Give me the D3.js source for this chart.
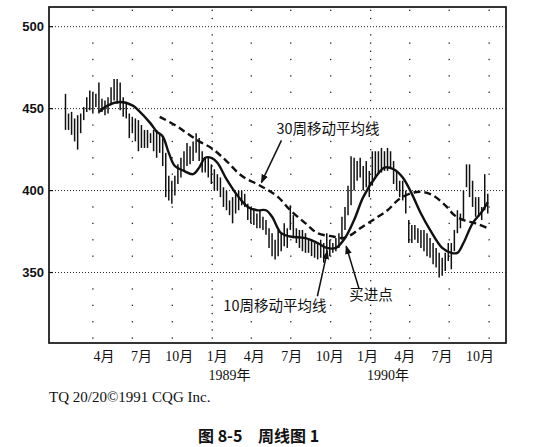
<!DOCTYPE html>
<html>
<head>
<meta charset="utf-8">
<script src="https://cdn.jsdelivr.net/npm/d3@7"></script>
<style>
  html, body { margin: 0; padding: 0; background: #fff; }
  svg { display: block; }
</style>
</head>
<body>
<div id="chart"></div>
<script>
(function () {
'use strict';
// Weekly bar chart with 10-week and 30-week moving averages (1988-1990)

// ---- data ----
const weekStart = new Date(1988, 0, 29);   // first weekly bar

const highs = [
  459,447,448,444,446,447,451,457,461,460,459,466,456,455,457,463,468,468,466,457,
  454,447,445,444,443,440,437,437,435,437,437,435,432,423,409,406,409,416,420,424,
  429,427,430,435,432,424,420,420,416,413,410,408,402,400,394,396,398,400,400,398,
  392,390,389,386,388,384,382,377,374,370,376,374,380,377,391,385,377,376,376,374,
  371,370,368,368,370,368,374,370,368,371,374,384,390,403,421,420,418,420,415,418,
  412,424,424,424,426,424,426,424,418,412,406,406,400,382,379,379,377,376,376,374,
  371,368,365,362,359,362,368,368,376,388,386,400,416,416,406,396,396,390,410,398
];
const lows = [
  437,437,434,430,425,435,443,448,449,447,451,447,448,446,447,452,455,453,449,445,
  444,432,435,430,424,426,426,426,429,424,420,423,415,396,394,392,397,404,408,412,
  415,416,418,423,418,411,411,408,404,400,400,396,390,388,385,380,386,388,391,390,
  382,380,379,377,377,376,373,365,360,358,360,363,366,365,376,371,368,365,363,362,
  362,360,359,358,359,356,362,360,362,363,365,370,376,385,391,400,406,408,400,402,
  396,403,408,410,411,412,412,414,404,400,396,394,386,368,368,370,368,365,363,360,
  359,355,353,347,348,351,357,352,363,374,377,382,402,396,390,384,384,382,388,386
];

// moving averages as drawn: [week index, value]
const ma10 = [
  [11,448],[14,452],[18,454],[22,452],[24,449],[28,441],[30,436],[32,433],[34,423],
  [36,415],[39,412],[42,410],[44,414],[46,420],[48,420],[50,417],[53,407],[57,396],
  [60,390],[63,388],[66,388],[68,384],[71,374],[74,372],[79,371],[83,368],[86,365],
  [89,365],[92,371],[95,382],[98,396],[102,408],[105,414],[108,413],[111,408],
  [114,398],[117,386],[120,376],[124,365],[127,362],[129,362],[131,368],[134,380],
  [137,387],[139,393]
];
const ma30 = [
  [31,445],[36,440],[40,435],[44,430],[48,426],[53,418],[58,409],[63,404],[66,401],
  [70,396],[74,388],[79,380],[83,374],[88,372],[91,371],[94,373],[97,377],[102,383],
  [106,388],[110,395],[115,399],[118,399],[121,397],[125,391],[128,385],[131,382],
  [135,380],[139,377]
];

const yTicks = [350, 400, 450, 500];
const yearLabels = ["1989年", "1990年"];

const notes = [
  { text: "30周移动平均线", week: 64.5, value: 405, lineDx: 20, lineDy: -42, textDx: 15, textDy: -48 },
  { text: "10周移动平均线", week: 86.2, value: 363, lineDx: -10, lineDy: 45, textDx: -104, textDy: 60 },
  { text: "买进点",         week: 92.4, value: 366, lineDx: 13, lineDy: 43, textDx: 3, textDy: 54 }
];

// ---- layout ----
const width = 534, height = 447;
const frame = { left: 49, top: 7, right: 506, bottom: 343 };

const svg = d3.select("#chart").append("svg")
  .attr("width", width).attr("height", height)
  .attr("viewBox", `0 0 ${width} ${height}`);

const weekDate = w => new Date(weekStart.getTime() + w * 7 * 864e5);

const x = d3.scaleTime()
  .domain([new Date(1987, 11, 22), new Date(1990, 10, 9)])
  .range([frame.left, frame.right]);
const y = d3.scaleLinear()
  .domain([307, 512])
  .range([frame.bottom, frame.top]);

// month labels drift a little against the grid in the original
const labelX = d3.scaleTime()
  .domain([new Date(1988, 3, 1), new Date(1990, 9, 1)])
  .range([104, 480]);

const qTicks = d3.timeMonth.every(3).range(new Date(1988, 3, 1), new Date(1990, 9, 2));

const SERIF = "'Liberation Serif','Times New Roman','Noto Sans CJK SC',serif";
const CJK = "'Noto Sans CJK SC','Noto Sans',sans-serif";

// ---- grid ----
const grid = svg.append("g");
grid.selectAll("line.h").data(yTicks).join("line")
  .attr("class", "h")
  .attr("x1", frame.left).attr("x2", frame.right)
  .attr("y1", d => y(d)).attr("y2", d => y(d))
  .attr("stroke", "#222").attr("stroke-width", 1)
  .attr("stroke-dasharray", "1 2");

// dotted columns: every 10 units, denser on January
qTicks.forEach(t => {
  const step = t.getMonth() === 0 ? 5 : 10;
  const vals = d3.range(310, 512, step).filter(v => yTicks.indexOf(v) < 0);
  grid.selectAll(null).data(vals).join("rect")
    .attr("x", x(t) - 0.6).attr("y", v => y(v) - 0.6)
    .attr("width", 1.3).attr("height", 1.3)
    .attr("fill", "#222");
});

// ---- frame + y axis ----
svg.append("rect")
  .attr("x", frame.left).attr("y", frame.top)
  .attr("width", frame.right - frame.left).attr("height", frame.bottom - frame.top)
  .attr("fill", "none").attr("stroke", "#111").attr("stroke-width", 1.7);

svg.append("g").selectAll("line").data(yTicks).join("line")
  .attr("x1", frame.left).attr("x2", frame.left + 4)
  .attr("y1", d => y(d)).attr("y2", d => y(d))
  .attr("stroke", "#111").attr("stroke-width", 1.2);

svg.append("g").selectAll("text").data(yTicks).join("text")
  .attr("x", 44).attr("y", d => y(d)).attr("dy", "0.36em")
  .attr("text-anchor", "end")
  .attr("font-family", "'Liberation Sans',Arial,sans-serif")
  .attr("font-weight", "bold").attr("font-size", 13)
  .attr("fill", "#111")
  .text(d => d);

// ---- x labels ----
svg.append("g").selectAll("text").data(qTicks).join("text")
  .attr("x", d => labelX(d)).attr("y", 361)
  .attr("text-anchor", "middle")
  .attr("font-family", SERIF).attr("font-size", 14)
  .attr("fill", "#111")
  .text(d => (d.getMonth() + 1) + "月");

svg.append("g").selectAll("text").data(yearLabels).join("text")
  .attr("x", (d, i) => x(new Date(1989 + i, 1, 10)))
  .attr("y", 380)
  .attr("text-anchor", "middle")
  .attr("font-family", SERIF).attr("font-size", 14)
  .attr("fill", "#111")
  .text(d => d);

// ---- weekly bars ----
svg.append("g").selectAll("line").data(highs).join("line")
  .attr("x1", (d, i) => x(weekDate(i))).attr("x2", (d, i) => x(weekDate(i)))
  .attr("y1", d => y(d)).attr("y2", (d, i) => y(lows[i]))
  .attr("stroke", "#111").attr("stroke-width", 1.5);

// ---- moving averages ----
const maLine = d3.line()
  .x(d => x(weekDate(d[0])))
  .y(d => y(d[1]))
  .curve(d3.curveCatmullRom.alpha(0.5));

svg.append("path").datum(ma30)
  .attr("d", maLine)
  .attr("fill", "none").attr("stroke", "#111")
  .attr("stroke-width", 2.4).attr("stroke-dasharray", "7 4");

svg.append("path").datum(ma10)
  .attr("d", maLine)
  .attr("fill", "none").attr("stroke", "#111")
  .attr("stroke-width", 2.4);

// ---- annotations ----
svg.append("defs").append("marker")
  .attr("id", "tip").attr("viewBox", "0 0 8 8")
  .attr("refX", 7).attr("refY", 4)
  .attr("markerWidth", 6).attr("markerHeight", 6)
  .attr("orient", "auto")
  .append("path").attr("d", "M0,1 L8,4 L0,7 Z").attr("fill", "#111");

const ann = svg.append("g").selectAll("g").data(notes).join("g")
  .attr("transform", d => `translate(${x(weekDate(d.week))},${y(d.value)})`);
ann.append("line")
  .attr("x1", d => d.lineDx).attr("y1", d => d.lineDy)
  .attr("x2", 0).attr("y2", 0)
  .attr("stroke", "#111").attr("stroke-width", 1.5)
  .attr("marker-end", "url(#tip)");
ann.append("text")
  .attr("x", d => d.textDx).attr("y", d => d.textDy)
  .attr("font-family", CJK).attr("font-size", 14.5)
  .attr("fill", "#111")
  .text(d => d.text);

// ---- credit + caption ----
svg.append("text")
  .attr("x", 49).attr("y", 402)
  .attr("font-family", SERIF).attr("font-size", 15)
  .attr("fill", "#111")
  .text("TQ 20/20©1991 CQG Inc.");

svg.append("text")
  .attr("x", 198).attr("y", 442)
  .attr("font-family", CJK).attr("font-weight", "bold").attr("font-size", 16)
  .attr("fill", "#111")
  .text("图 8-5");
svg.append("text")
  .attr("x", 258).attr("y", 442)
  .attr("font-family", CJK).attr("font-weight", "bold").attr("font-size", 16)
  .attr("fill", "#111")
  .text("周线图 1");
})();
</script>
</body>
</html>
